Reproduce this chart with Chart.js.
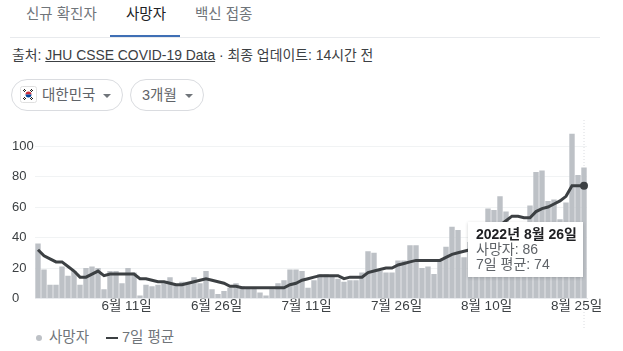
<!DOCTYPE html>
<html lang="ko">
<head>
<meta charset="utf-8">
<script src="https://cdn.jsdelivr.net/npm/chart.js@4"></script>
<style>
  html, body { margin: 0; padding: 0; background: #fff; }
  body { width: 623px; height: 351px; position: relative; overflow: hidden;
    font-family: "Liberation Sans", "Noto Sans CJK KR", sans-serif; color: #3c4043; }
  .abs { position: absolute; white-space: nowrap; }
  .tab { top: 5px; font-size: 14.5px; line-height: 18px; color: #70757a; }
  .chip { top: 79px; height: 30px; border: 1px solid #dadce0; border-radius: 16px; box-sizing: content-box; }
  .chip span { position: absolute; top: 6px; font-size: 14.5px; line-height: 18px; color: #5f6368; white-space: nowrap; }
  .caret { position: absolute; top: 14px; width: 0; height: 0; border-left: 4px solid transparent; border-right: 4px solid transparent; border-top: 4px solid #70757a; }
  #chart { position: absolute; left: 0; top: 120px; }
  #tip { position: absolute; display: none; background: #fff; box-shadow: 0 1px 3px rgba(60,64,67,.25); box-sizing: border-box; padding: 5px 8px; font-size: 14px; line-height: 15px; color: #5f6368; white-space: nowrap; }
  #tip b { color: #202124; }
</style>
</head>
<body>
<div class="abs tab" style="left:26px">신규 확진자</div>
<div class="abs tab" style="left:126px;color:#202124">사망자</div>
<div class="abs tab" style="left:195px">백신 접종</div>
<div class="abs" style="left:10px;top:37px;width:590px;height:1px;background:#e8eaed"></div>
<div class="abs" style="left:110px;top:35px;width:70px;height:2px;background:#3f6fb5"></div>
<div class="abs" style="left:12px;top:46px;font-size:13.9px;line-height:18px;color:#3c4043">출처: <u>JHU CSSE COVID-19 Data</u> · 최종 업데이트: 14시간 전</div>

<div class="abs chip" style="left:11px;width:110px">
  <svg style="position:absolute;left:8px;top:6px" width="17" height="17" viewBox="0 0 17 17">
    <rect x="0.5" y="0.5" width="16" height="16" rx="2" fill="#fff" stroke="#e0e0e0"/>
    <path d="M5.5 8.5a3 3 0 0 1 6 0z" fill="#cd2e3a"/>
    <path d="M5.5 8.5a3 3 0 0 0 6 0z" fill="#0047a0"/>
    <path d="M3 5l2-2M4 6l2-2M11 3l2 2M10 4l2 2M3 12l2 2M4 11l2 2M11 14l2-2M10 13l2-2" stroke="#222" stroke-width="1"/>
  </svg>
  <span style="left:30px">대한민국</span>
  <div class="caret" style="left:91px"></div>
</div>
<div class="abs chip" style="left:130px;width:72px">
  <span style="left:11px">3개월</span>
  <div class="caret" style="left:54px"></div>
</div>

<canvas id="chart" width="623" height="208"></canvas>
<div id="tip"></div>

<div class="abs" style="left:36px;top:335px;width:6px;height:6px;border-radius:50%;background:#bdc1c6"></div>
<div class="abs" style="left:49px;top:328px;font-size:14.5px;line-height:18px;color:#70757a">사망자</div>
<div class="abs" style="left:106px;top:337px;width:12px;height:2px;background:#3c4043"></div>
<div class="abs" style="left:122px;top:328px;font-size:14.5px;line-height:18px;color:#70757a">7일 평균</div>

<script>
// 5월 27일 - 8월 26일
const categories = [
  '5월 27일','5월 28일','5월 29일','5월 30일','5월 31일',
  '6월 1일','6월 2일','6월 3일','6월 4일','6월 5일','6월 6일','6월 7일','6월 8일','6월 9일','6월 10일',
  '6월 11일','6월 12일','6월 13일','6월 14일','6월 15일','6월 16일','6월 17일','6월 18일','6월 19일','6월 20일',
  '6월 21일','6월 22일','6월 23일','6월 24일','6월 25일','6월 26일','6월 27일','6월 28일','6월 29일','6월 30일',
  '7월 1일','7월 2일','7월 3일','7월 4일','7월 5일','7월 6일','7월 7일','7월 8일','7월 9일','7월 10일',
  '7월 11일','7월 12일','7월 13일','7월 14일','7월 15일','7월 16일','7월 17일','7월 18일','7월 19일','7월 20일',
  '7월 21일','7월 22일','7월 23일','7월 24일','7월 25일','7월 26일','7월 27일','7월 28일','7월 29일','7월 30일',
  '7월 31일','8월 1일','8월 2일','8월 3일','8월 4일','8월 5일','8월 6일','8월 7일','8월 8일','8월 9일',
  '8월 10일','8월 11일','8월 12일','8월 13일','8월 14일','8월 15일','8월 16일','8월 17일','8월 18일','8월 19일',
  '8월 20일','8월 21일','8월 22일','8월 23일','8월 24일','8월 25일','8월 26일'
];
const deaths = [
  36,19,9,9,21,15,18,9,20,21,20,6,18,18,10,
  20,17,2,9,8,9,10,14,9,11,11,14,10,18,6,
  3,5,7,10,8,7,7,4,2,6,10,12,19,19,18,
  7,12,16,16,15,13,11,12,12,17,31,30,18,17,17,
  25,25,35,35,20,21,16,25,34,47,45,27,37,40,44,
  59,58,67,57,49,50,48,61,83,84,64,65,52,63,108,81,86
];
const average = [
  32,28,26,24,24,21,18,14,14,16,18,15,16,16,16,
  16,16,13,13,12,11,11,10,9,9,10,11,12,13,12,
  11,10,8,8,7,7,7,7,7,7,7,7,9,10,12,
  13,14,15,15,15,15,13,14,14,14,17,18,19,20,20,
  22,23,24,25,25,25,25,25,27,29,30,31,32,34,37,
  40,44,48,51,54,54,53,53,57,59,60,62,64,67,74,74,74
];
const tickLabels = ['6월 11일','6월 26일','7월 11일','7월 26일','8월 10일','8월 25일'];
const yTicks = [0, 20, 40, 60, 80, 100];
const seriesNames = ['사망자', '7일 평균'];
const hoverIndex = categories.length - 1;

// hover guide through the last day, under the marks
const hoverLine = {
  id: 'hoverLine',
  beforeDatasetsDraw(chart) {
    const { ctx, scales } = chart;
    const x = scales.x.getPixelForValue(hoverIndex);
    ctx.save();
    ctx.strokeStyle = '#dadce0';
    ctx.setLineDash([1, 2]);
    ctx.beginPath();
    ctx.moveTo(x, 0);
    ctx.lineTo(x, chart.height);
    ctx.stroke();
    ctx.restore();
  }
};

const chart = new Chart(document.getElementById('chart'), {
  data: {
    labels: categories,
    datasets: [
      {
        type: 'line',
        label: seriesNames[1],
        data: average,
        borderColor: '#3c4043',
        borderWidth: 3,
        tension: 0,
        pointRadius: ctx => ctx.dataIndex === hoverIndex ? 4 : 0,
        pointBackgroundColor: '#3c4043',
        pointBorderWidth: 0
      },
      {
        type: 'bar',
        label: seriesNames[0],
        data: deaths,
        backgroundColor: '#bdc1c6',
        barPercentage: 0.9,
        categoryPercentage: 1
      }
    ]
  },
  options: {
    responsive: false,
    animation: false,
    events: [],
    layout: { padding: { left: 12, right: 36, top: 10.4, bottom: 0 } },
    plugins: {
      legend: { display: false },
      tooltip: { enabled: false }
    },
    scales: {
      x: {
        offset: true,
        grid: { display: false, drawTicks: false },
        border: { color: '#e8eaed' },
        afterFit: s => { s.height = 29.5; },
        ticks: {
          autoSkip: false,
          maxRotation: 0,
          padding: 0,
          labelOffset: -1.5,
          color: '#3c4043',
          font: { family: '"Liberation Sans", "Noto Sans CJK KR", sans-serif', size: 13.5 },
          callback(v) {
            const label = this.getLabelForValue(v);
            return tickLabels.includes(label) ? label : null;
          }
        }
      },
      y: {
        min: 0,
        max: 110,
        afterFit: s => { s.width = 23; },
        afterBuildTicks: s => { s.ticks = yTicks.map(value => ({ value })); },
        grid: { color: '#f1f3f4', drawTicks: false },
        border: { display: false },
        ticks: {
          crossAlign: 'far',
          color: '#3c4043',
          font: { family: '"Liberation Sans", "Noto Sans CJK KR", sans-serif', size: 13 }
        }
      }
    }
  },
  plugins: [hoverLine]
});

// tooltip for the hovered day
const tip = document.getElementById('tip');
tip.innerHTML = '<b>2022년 ' + categories[hoverIndex] + '</b><br>' +
  seriesNames[0] + ': ' + deaths[hoverIndex] + '<br>' +
  seriesNames[1] + ': ' + average[hoverIndex];
tip.style.display = 'block';
tip.style.left = '468px';
tip.style.top = '222px';
tip.style.width = '115px';
tip.style.height = '55px';
</script>
</body>
</html>
